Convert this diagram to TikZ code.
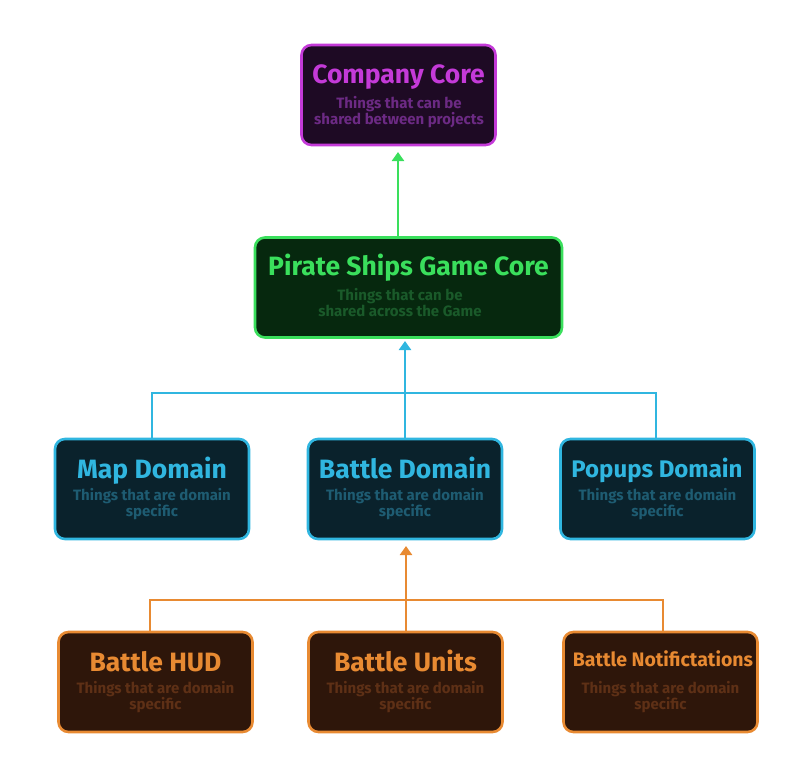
\documentclass[tikz,border=0pt]{standalone}
\usepackage{fontspec}
\setmainfont{Fira Sans}
\usetikzlibrary{arrows.meta}
\definecolor{mgB}{HTML}{C43AD8}\definecolor{mgF}{HTML}{1E0A24}\definecolor{mgS}{HTML}{6C2A84}
\definecolor{grB}{HTML}{3ADF5C}\definecolor{grF}{HTML}{06280E}\definecolor{grS}{HTML}{1A5A2A}
\definecolor{blB}{HTML}{30B6E0}\definecolor{blF}{HTML}{0A222C}\definecolor{blS}{HTML}{1E5C72}
\definecolor{orB}{HTML}{E88A32}\definecolor{orF}{HTML}{2E160A}\definecolor{orS}{HTML}{5E3016}
\tikzset{
  card/.style={draw=#1B, fill=#1F, line width=2.6pt, rounded corners=10pt,
    minimum width=194pt, minimum height=100pt, inner sep=0pt},
  ttl/.style={text=#1B, anchor=base, inner sep=0pt, font=\bfseries\fontsize{26.5}{28}\selectfont},
  sub/.style={text=#1S, font=\bfseries\fontsize{15}{16}\selectfont, align=center},
  link/.style={draw=#1B, line width=2.8pt},
  arr/.style={link=#1, -{Triangle[width=12pt,length=9pt]}},
}
\begin{document}
\begin{tikzpicture}[x=1pt,y=-1pt]
\useasboundingbox (0,0) rectangle (800,779);
% cards
\node[card=mg] (cc) at (398.5,95) {};
\node[card=gr, minimum width=307pt] (pg) at (408.5,287.5) {};
\node[card=bl] (md) at (152,489) {};
\node[card=bl] (bd) at (405,489) {};
\node[card=bl] (pd) at (657.5,489) {};
\node[card=or] (bh) at (155.5,682) {};
\node[card=or] (bu) at (405.5,682) {};
\node[card=or] (bn) at (660.5,682) {};
% texts
\node[ttl=mg] (cct) at (398.5,83.5) {Company Core};
\node[sub=mg] (ccs) at (399,112) {Things that can be\\shared between projects};
\node[ttl=gr] (pgt) at (408.5,275.5) {Pirate Ships Game Core};
\node[sub=gr] (pgs) at (400,303) {Things that can be\\shared across the Game};
\node[ttl=bl] (mdt) at (152,478.5) {Map Domain};
\node[sub=bl] (mds) at (152,504) {Things that are domain\\specific};
\node[ttl=bl] (bdt) at (405,478.5) {Battle Domain};
\node[sub=bl] (bds) at (405,504) {Things that are domain\\specific};
\node[ttl=bl, font=\bfseries\fontsize{24}{26}\selectfont] (pdt) at (657,477.5) {Popups Domain};
\node[sub=bl] (pds) at (657.5,504) {Things that are domain\\specific};
\node[ttl=or] (bht) at (155.5,671.5) {Battle HUD};
\node[sub=or] (bhs) at (155.5,697) {Things that are domain\\specific};
\node[ttl=or] (but) at (405.5,671) {Battle Units};
\node[sub=or] (bus) at (405.5,697) {Things that are domain\\specific};
\node[ttl=or, font=\bfseries\fontsize{19.5}{21}\selectfont] (bnt) at (663,666.5) {Battle Notifictations};
\node[sub=or] (bns) at (660.5,697) {Things that are domain\\specific};
% coordinates
\coordinate (bj) at (405,393);
\coordinate (oj) at (406,600);
\coordinate (bl) at (152,393);
\coordinate (br) at (656,393);
\coordinate (ol) at (150,600);
\coordinate (or) at (663,600);
% green
\draw[arr=gr] (398,238) -- (398,152);
% blue
\draw[link=bl] (md.north) -- (bl) -- (br) -- (br |- pd.north);
\draw[link=bl] (bd.north) -- (bj);
\draw[arr=bl] (bj) -- (405,341);
% orange
\draw[link=or] (ol |- bh.north) -- (ol) -- (or) -- (or |- bn.north);
\draw[link=or] (bu.north -| oj) -- (oj);
\draw[arr=or] (oj) -- (406,546);
\end{tikzpicture}
\end{document}
